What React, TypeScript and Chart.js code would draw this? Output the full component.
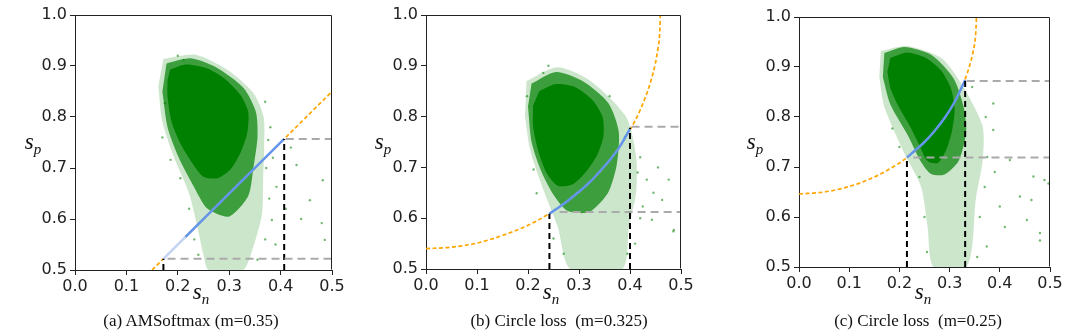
import React, { useEffect, useRef } from "react";
import { Chart, registerables } from "chart.js";

Chart.register(...registerables);

type P = { x: number; y: number };

// ---------- shared axis ticks ----------
const xTicks = [0, 0.1, 0.2, 0.3, 0.4, 0.5];
const yTicks = [0.5, 0.6, 0.7, 0.8, 0.9, 1.0];

// ---------- panel (a) AMSoftmax ----------
const aBoundary: P[] = [{ x: 0.15, y: 0.5 }, { x: 0.5, y: 0.85 }];
const aSegmentFaded: P[] = [{ x: 0.172, y: 0.522 }, { x: 0.215, y: 0.565 }];
const aSegment: P[] = [{ x: 0.215, y: 0.565 }, { x: 0.407, y: 0.757 }];
const aVLines: P[][] = [
  [{ x: 0.172, y: 0.5 }, { x: 0.172, y: 0.522 }],
  [{ x: 0.407, y: 0.5 }, { x: 0.407, y: 0.757 }],
];
const aHLines: P[][] = [
  [{ x: 0.18, y: 0.522 }, { x: 0.5, y: 0.522 }],
  [{ x: 0.41, y: 0.757 }, { x: 0.5, y: 0.757 }],
];
const aDense: P[] = [
  { x: 0.185, y: 0.893 }, { x: 0.215, y: 0.903 }, { x: 0.255, y: 0.896 }, { x: 0.29, y: 0.876 },
  { x: 0.322, y: 0.843 }, { x: 0.337, y: 0.81 }, { x: 0.335, y: 0.768 }, { x: 0.322, y: 0.73 },
  { x: 0.303, y: 0.698 }, { x: 0.278, y: 0.68 }, { x: 0.25, y: 0.683 }, { x: 0.228, y: 0.71 },
  { x: 0.205, y: 0.748 }, { x: 0.188, y: 0.79 }, { x: 0.18, y: 0.84 }, { x: 0.18, y: 0.872 },
];
const aMedium: P[] = [
  { x: 0.178, y: 0.905 }, { x: 0.225, y: 0.915 }, { x: 0.275, y: 0.897 }, { x: 0.328, y: 0.857 },
  { x: 0.352, y: 0.81 }, { x: 0.355, y: 0.76 }, { x: 0.347, y: 0.7 }, { x: 0.337, y: 0.645 },
  { x: 0.3, y: 0.605 }, { x: 0.258, y: 0.62 }, { x: 0.232, y: 0.662 }, { x: 0.202, y: 0.72 },
  { x: 0.18, y: 0.78 }, { x: 0.17, y: 0.85 },
];
const aSparse: P[] = [
  { x: 0.172, y: 0.914 }, { x: 0.235, y: 0.922 }, { x: 0.297, y: 0.892 }, { x: 0.347, y: 0.847 },
  { x: 0.367, y: 0.8 }, { x: 0.368, y: 0.74 }, { x: 0.366, y: 0.676 }, { x: 0.364, y: 0.611 },
  { x: 0.347, y: 0.546 }, { x: 0.327, y: 0.5 }, { x: 0.26, y: 0.5 }, { x: 0.25, y: 0.53 },
  { x: 0.238, y: 0.585 }, { x: 0.222, y: 0.65 }, { x: 0.193, y: 0.72 }, { x: 0.17, y: 0.79 },
  { x: 0.162, y: 0.86 },
];
const aOutliers: P[] = [
  { x: 0.186, y: 0.716 }, { x: 0.431, y: 0.706 }, { x: 0.482, y: 0.676 }, { x: 0.457, y: 0.637 },
  { x: 0.48, y: 0.592 }, { x: 0.486, y: 0.559 }, { x: 0.376, y: 0.755 }, { x: 0.392, y: 0.663 },
  { x: 0.383, y: 0.598 }, { x: 0.211, y: 0.912 }, { x: 0.175, y: 0.827 }, { x: 0.37, y: 0.83 },
  { x: 0.372, y: 0.7 }, { x: 0.37, y: 0.56 }, { x: 0.355, y: 0.52 }, { x: 0.42, y: 0.74 },
  { x: 0.44, y: 0.6 }, { x: 0.222, y: 0.62 }, { x: 0.232, y: 0.56 }, { x: 0.24, y: 0.53 },
  { x: 0.38, y: 0.78 }, { x: 0.385, y: 0.72 }, { x: 0.378, y: 0.64 }, { x: 0.39, y: 0.55 },
  { x: 0.205, y: 0.68 }, { x: 0.2, y: 0.92 }, { x: 0.17, y: 0.76 }, { x: 0.41, y: 0.62 },
];

// ---------- panel (b) Circle loss m=0.325 ----------
const bBoundary: P[] = [
  { x: 0, y: 0.54 }, { x: 0.05, y: 0.543 }, { x: 0.1, y: 0.551 }, { x: 0.15, y: 0.566 },
  { x: 0.2, y: 0.586 }, { x: 0.24, y: 0.608 }, { x: 0.28, y: 0.636 }, { x: 0.32, y: 0.67 },
  { x: 0.36, y: 0.714 }, { x: 0.4, y: 0.774 }, { x: 0.42, y: 0.813 }, { x: 0.44, y: 0.867 },
  { x: 0.45, y: 0.906 }, { x: 0.455, y: 0.935 }, { x: 0.458, y: 0.961 }, { x: 0.4596, y: 1.0 },
];
const bSegment: P[] = [
  { x: 0.242, y: 0.609 }, { x: 0.26, y: 0.621 }, { x: 0.28, y: 0.636 }, { x: 0.3, y: 0.652 },
  { x: 0.32, y: 0.67 }, { x: 0.34, y: 0.691 }, { x: 0.36, y: 0.714 }, { x: 0.38, y: 0.741 },
  { x: 0.4, y: 0.776 },
];
const bVLines: P[][] = [
  [{ x: 0.242, y: 0.5 }, { x: 0.242, y: 0.609 }],
  [{ x: 0.4, y: 0.5 }, { x: 0.4, y: 0.778 }],
];
const bHLines: P[][] = [
  [{ x: 0.262, y: 0.612 }, { x: 0.5, y: 0.612 }],
  [{ x: 0.403, y: 0.78 }, { x: 0.5, y: 0.78 }],
];
const bDense: P[] = [
  { x: 0.222, y: 0.85 }, { x: 0.255, y: 0.864 }, { x: 0.293, y: 0.858 }, { x: 0.325, y: 0.834 },
  { x: 0.346, y: 0.8 }, { x: 0.348, y: 0.762 }, { x: 0.336, y: 0.725 }, { x: 0.315, y: 0.693 },
  { x: 0.288, y: 0.667 }, { x: 0.258, y: 0.664 }, { x: 0.236, y: 0.69 }, { x: 0.22, y: 0.733 },
  { x: 0.21, y: 0.78 }, { x: 0.21, y: 0.822 },
];
const bMedium: P[] = [
  { x: 0.207, y: 0.865 }, { x: 0.255, y: 0.888 }, { x: 0.307, y: 0.87 }, { x: 0.358, y: 0.826 },
  { x: 0.378, y: 0.77 }, { x: 0.374, y: 0.705 }, { x: 0.357, y: 0.65 }, { x: 0.32, y: 0.612 },
  { x: 0.278, y: 0.614 }, { x: 0.252, y: 0.643 }, { x: 0.227, y: 0.69 }, { x: 0.207, y: 0.75 },
  { x: 0.2, y: 0.82 },
];
const bSparse: P[] = [
  { x: 0.197, y: 0.87 }, { x: 0.257, y: 0.897 }, { x: 0.32, y: 0.872 }, { x: 0.392, y: 0.8 },
  { x: 0.412, y: 0.722 }, { x: 0.412, y: 0.65 }, { x: 0.398, y: 0.584 }, { x: 0.385, y: 0.5 },
  { x: 0.283, y: 0.5 }, { x: 0.258, y: 0.584 }, { x: 0.23, y: 0.656 }, { x: 0.204, y: 0.735 },
  { x: 0.194, y: 0.801 },
];
const bOutliers: P[] = [
  { x: 0.433, y: 0.676 }, { x: 0.476, y: 0.676 }, { x: 0.485, y: 0.574 }, { x: 0.425, y: 0.623 },
  { x: 0.443, y: 0.597 }, { x: 0.463, y: 0.636 }, { x: 0.486, y: 0.577 }, { x: 0.446, y: 0.65 },
  { x: 0.23, y: 0.886 }, { x: 0.211, y: 0.696 }, { x: 0.217, y: 0.649 }, { x: 0.42, y: 0.72 },
  { x: 0.41, y: 0.55 }, { x: 0.39, y: 0.76 }, { x: 0.415, y: 0.69 }, { x: 0.42, y: 0.6 },
  { x: 0.395, y: 0.53 }, { x: 0.25, y: 0.56 }, { x: 0.27, y: 0.53 }, { x: 0.198, y: 0.84 },
  { x: 0.24, y: 0.9 }, { x: 0.36, y: 0.84 }, { x: 0.455, y: 0.7 },
];

// ---------- panel (c) Circle loss m=0.25 ----------
const cBoundary: P[] = [
  { x: 0, y: 0.646 }, { x: 0.05, y: 0.65 }, { x: 0.1, y: 0.661 }, { x: 0.15, y: 0.68 },
  { x: 0.2, y: 0.708 }, { x: 0.215, y: 0.719 }, { x: 0.25, y: 0.75 }, { x: 0.28, y: 0.784 },
  { x: 0.3, y: 0.813 }, { x: 0.32, y: 0.85 }, { x: 0.33, y: 0.873 }, { x: 0.34, y: 0.903 },
  { x: 0.347, y: 0.932 }, { x: 0.352, y: 0.967 }, { x: 0.3536, y: 1.0 },
];
const cSegment: P[] = [
  { x: 0.215, y: 0.719 }, { x: 0.23, y: 0.732 }, { x: 0.25, y: 0.75 }, { x: 0.27, y: 0.772 },
  { x: 0.29, y: 0.798 }, { x: 0.31, y: 0.83 }, { x: 0.331, y: 0.874 },
];
const cVLines: P[][] = [
  [{ x: 0.215, y: 0.5 }, { x: 0.215, y: 0.719 }],
  [{ x: 0.331, y: 0.5 }, { x: 0.331, y: 0.872 }],
];
const cHLines: P[][] = [
  [{ x: 0.228, y: 0.719 }, { x: 0.5, y: 0.719 }],
  [{ x: 0.334, y: 0.872 }, { x: 0.5, y: 0.872 }],
];
const cDense: P[] = [
  { x: 0.182, y: 0.918 }, { x: 0.215, y: 0.929 }, { x: 0.253, y: 0.918 }, { x: 0.284, y: 0.892 },
  { x: 0.303, y: 0.856 }, { x: 0.31, y: 0.815 }, { x: 0.305, y: 0.773 }, { x: 0.294, y: 0.736 },
  { x: 0.277, y: 0.708 }, { x: 0.256, y: 0.712 }, { x: 0.241, y: 0.741 }, { x: 0.223, y: 0.778 },
  { x: 0.2, y: 0.818 }, { x: 0.183, y: 0.855 }, { x: 0.176, y: 0.89 },
];
const cMedium: P[] = [
  { x: 0.17, y: 0.928 }, { x: 0.21, y: 0.94 }, { x: 0.264, y: 0.924 }, { x: 0.308, y: 0.877 },
  { x: 0.328, y: 0.82 }, { x: 0.333, y: 0.77 }, { x: 0.318, y: 0.712 }, { x: 0.29, y: 0.685 },
  { x: 0.263, y: 0.686 }, { x: 0.242, y: 0.712 }, { x: 0.217, y: 0.763 }, { x: 0.182, y: 0.825 },
  { x: 0.167, y: 0.88 },
];
const cSparse: P[] = [
  { x: 0.163, y: 0.932 }, { x: 0.215, y: 0.942 }, { x: 0.285, y: 0.917 }, { x: 0.332, y: 0.852 },
  { x: 0.366, y: 0.78 }, { x: 0.366, y: 0.714 }, { x: 0.352, y: 0.634 }, { x: 0.345, y: 0.541 },
  { x: 0.332, y: 0.5 }, { x: 0.268, y: 0.5 }, { x: 0.256, y: 0.581 }, { x: 0.243, y: 0.661 },
  { x: 0.21, y: 0.727 }, { x: 0.17, y: 0.82 }, { x: 0.16, y: 0.88 },
];
const cOutliers: P[] = [
  { x: 0.387, y: 0.774 }, { x: 0.42, y: 0.714 }, { x: 0.467, y: 0.681 }, { x: 0.489, y: 0.674 },
  { x: 0.454, y: 0.594 }, { x: 0.48, y: 0.568 }, { x: 0.4, y: 0.621 }, { x: 0.374, y: 0.541 },
  { x: 0.186, y: 0.777 }, { x: 0.387, y: 0.827 }, { x: 0.497, y: 0.667 }, { x: 0.48, y: 0.553 },
  { x: 0.463, y: 0.634 }, { x: 0.44, y: 0.641 }, { x: 0.37, y: 0.66 }, { x: 0.36, y: 0.6 },
  { x: 0.375, y: 0.72 }, { x: 0.372, y: 0.8 }, { x: 0.355, y: 0.52 }, { x: 0.25, y: 0.6 },
  { x: 0.255, y: 0.53 }, { x: 0.24, y: 0.68 }, { x: 0.2, y: 0.74 }, { x: 0.39, y: 0.69 },
  { x: 0.41, y: 0.58 }, { x: 0.345, y: 0.86 },
];

// ---------- styles ----------
const GREEN_DENSE = "rgb(0,128,0)";
const GREEN_MED = "rgba(0,128,0,0.7)";
const GREEN_SPARSE = "rgba(0,128,0,0.2)";
const GREEN_DOT = "rgba(0,128,0,0.55)";
const ORANGE = "#FFA500";
const BLUE = "#6495ED";
const BLUE_FADED = "#C3D5F7";
const GRAY = "#AAAAAA";
const SERIF = '"Liberation Serif", "Times New Roman", "DejaVu Serif", serif';
const SANS = '"DejaVu Sans", sans-serif';

type Panel = {
  key: string;
  offset: number;
  area: { left: number; right: number; top: number; bottom: number };
  caption: string;
  captionX: number;
  spX: number;
  snX: number;
  sparse: P[];
  medium: P[];
  dense: P[];
  outliers: P[];
  boundary: P[];
  segments: { data: P[]; color: string }[];
  vlines: P[][];
  hlines: P[][];
};

const panels: Panel[] = [
  {
    key: "a", offset: 0,
    area: { left: 75, right: 332, top: 15, bottom: 270 },
    caption: "(a) AMSoftmax (m=0.35)", captionX: 191, spX: 33, snX: 201,
    sparse: aSparse, medium: aMedium, dense: aDense, outliers: aOutliers,
    boundary: aBoundary,
    segments: [{ data: aSegmentFaded, color: BLUE_FADED }, { data: aSegment, color: BLUE }],
    vlines: aVLines, hlines: aHLines,
  },
  {
    key: "b", offset: 360,
    area: { left: 66, right: 321, top: 15, bottom: 269 },
    caption: "(b) Circle loss\u00a0 (m=0.325)", captionX: 199, spX: 23, snX: 191,
    sparse: bSparse, medium: bMedium, dense: bDense, outliers: bOutliers,
    boundary: bBoundary,
    segments: [{ data: bSegment, color: BLUE }],
    vlines: bVLines, hlines: bHLines,
  },
  {
    key: "c", offset: 720,
    area: { left: 79, right: 330, top: 17, bottom: 267 },
    caption: "(c) Circle loss\u00a0 (m=0.25)", captionX: 198, spX: 35, snX: 203,
    sparse: cSparse, medium: cMedium, dense: cDense, outliers: cOutliers,
    boundary: cBoundary,
    segments: [{ data: cSegment, color: BLUE }],
    vlines: cVLines, hlines: cHLines,
  },
];

const Y_AXIS_W = 50;
const X_AXIS_H = 30;
const W = 360;
const H = 336;

const framePlugin = {
  id: "frame",
  afterDatasetsDraw(chart: any) {
    const { ctx, chartArea: a } = chart;
    ctx.save();
    ctx.strokeStyle = "#222";
    ctx.lineWidth = 1;
    ctx.beginPath();
    const l = Math.round(a.left) + 0.5;
    const r = Math.round(a.right) - 0.5;
    const t = Math.round(a.top) + 0.5;
    const b = Math.round(a.bottom) - 0.5;
    ctx.moveTo(l, t);
    ctx.lineTo(r, t);
    ctx.lineTo(r, b);
    ctx.stroke();
    ctx.restore();
  },
};

function buildDatasets(p: Panel) {
  const poly = (data: P[], color: string) => ({
    data, showLine: true, fill: "shape", backgroundColor: color,
    borderColor: "rgba(0,0,0,0)", borderWidth: 1, pointRadius: 0, tension: 0.25,
  });
  const list: any[] = [
    poly(p.sparse, GREEN_SPARSE),
    poly(p.medium, GREEN_MED),
    poly(p.dense, GREEN_DENSE),
    {
      data: p.outliers, showLine: false, pointRadius: 1.2, pointBorderWidth: 0,
      pointBackgroundColor: GREEN_DOT, backgroundColor: GREEN_DOT,
    },
    {
      data: p.boundary, showLine: true, fill: false, borderColor: ORANGE, borderWidth: 1.7,
      borderDash: [4, 2.5], pointRadius: 0, cubicInterpolationMode: "monotone",
    },
    ...p.segments.map((s) => ({
      data: s.data, showLine: true, fill: false, borderColor: s.color, borderWidth: 2.5,
      pointRadius: 0, cubicInterpolationMode: "monotone",
    })),
    ...p.vlines.map((d) => ({
      data: d, showLine: true, fill: false, borderColor: "#000", borderWidth: 2,
      borderDash: [6, 4], pointRadius: 0,
    })),
    ...p.hlines.map((d) => ({
      data: d, showLine: true, fill: false, borderColor: GRAY, borderWidth: 2,
      borderDash: [8, 5], pointRadius: 0,
    })),
  ];
  return list.map((d, i, arr) => ({ ...d, order: arr.length - i, pointHoverRadius: 0 }));
}

function PanelChart({ p }: { p: Panel }) {
  const ref = useRef<HTMLCanvasElement | null>(null);
  useEffect(() => {
    if (!ref.current) return;
    const tickFont = { family: SANS, size: 16 };
    const gridOpts = {
      display: true, drawOnChartArea: false, drawTicks: true, tickLength: 5, color: "#222", lineWidth: 1,
    };
    const chart = new Chart(ref.current, {
      type: "scatter",
      data: { datasets: buildDatasets(p) as any },
      plugins: [framePlugin],
      options: {
        responsive: false,
        animation: false,
        devicePixelRatio: 1,
        events: [],
        layout: {
          padding: {
            left: p.area.left - Y_AXIS_W,
            right: W - p.area.right,
            top: p.area.top,
            bottom: H - p.area.bottom - X_AXIS_H,
          },
        },
        plugins: { legend: { display: false }, tooltip: { enabled: false } },
        scales: {
          x: {
            type: "linear", min: 0, max: 0.5,
            afterBuildTicks: (s: any) => { s.ticks = xTicks.map((v) => ({ value: v })); },
            afterFit: (s: any) => { s.height = X_AXIS_H; },
            ticks: {
              callback: (v: any) => Number(v).toFixed(1), font: tickFont, color: "#222",
              padding: 2, maxRotation: 0, autoSkip: false,
            },
            grid: gridOpts,
            border: { display: true, color: "#222", width: 1 },
          },
          y: {
            type: "linear", min: 0.5, max: 1.0,
            afterBuildTicks: (s: any) => { s.ticks = yTicks.map((v) => ({ value: v })); },
            afterFit: (s: any) => { s.width = Y_AXIS_W; },
            ticks: {
              callback: (v: any) => Number(v).toFixed(1), font: tickFont, color: "#222",
              padding: 3, autoSkip: false,
            },
            grid: gridOpts,
            border: { display: true, color: "#222", width: 1 },
          },
        },
      } as any,
    });
    return () => chart.destroy();
  }, [p]);

  return (
    <div style={{ position: "absolute", left: p.offset, top: 0, width: W, height: H }}>
      <canvas ref={ref} width={W} height={H} style={{ position: "absolute", left: 0, top: 0 }} />
      <div
        style={{
          position: "absolute", left: p.spX - 20, width: 40, top: 130, textAlign: "center",
          fontFamily: SERIF, fontStyle: "italic", fontSize: 23, lineHeight: "24px", color: "#111",
        }}
      >
        s<span style={{ fontSize: 15, position: "relative", top: 5 }}>p</span>
      </div>
      <div
        style={{
          position: "absolute", left: p.snX - 20, width: 40, top: 280, textAlign: "center",
          fontFamily: SERIF, fontStyle: "italic", fontSize: 23, lineHeight: "24px", color: "#111",
        }}
      >
        s<span style={{ fontSize: 15, position: "relative", top: 5 }}>n</span>
      </div>
      <div
        style={{
          position: "absolute", left: p.captionX - 150, width: 300, top: 311, textAlign: "center",
          fontFamily: SERIF, fontSize: 17, lineHeight: "20px", color: "#111", whiteSpace: "pre",
        }}
      >
        {p.caption}
      </div>
    </div>
  );
}

export default function App() {
  return (
    <div
      style={{
        position: "fixed", left: 0, top: 0, width: 1080, height: 336, background: "#fff", overflow: "hidden",
      }}
    >
      {panels.map((p) => (
        <PanelChart key={p.key} p={p} />
      ))}
    </div>
  );
}
